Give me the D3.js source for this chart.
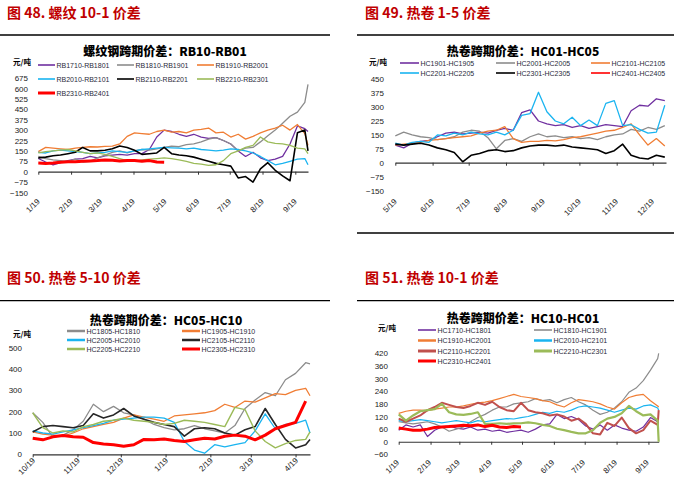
<!DOCTYPE html>
<html><head><meta charset="utf-8">
<script src="https://cdn.jsdelivr.net/npm/d3@7"></script>
<style>body{margin:0;background:#fff}svg{display:block}</style>
</head><body>
<svg id="c" width="674" height="487"></svg>
<script>
// ---------------- DATA ----------------
// Panel 1: RB10-RB01 (weekly from 2019-01-19, last point 2019-10-01)
const p1Start = "2019-01-19", p1Weeks = 37, p1End = "2019-10-01";
const p1Ticks = ["2019-01-19","2019-02-19","2019-03-19","2019-04-19","2019-05-19","2019-06-19","2019-07-19","2019-08-19","2019-09-19"];
const p1YTicks = [-150,-75,0,75,150,225,300,375,450,525,600,675];
const rb1710 = [95,70,50,65,80,90,95,110,100,115,120,125,120,130,130,160,250,300,290,270,255,270,250,240,245,225,200,150,110,140,100,80,90,110,200,330,310,290];
const rb1810 = [110,95,85,80,75,90,70,75,100,120,140,150,135,150,160,155,165,175,185,180,195,200,215,235,245,225,200,150,170,175,215,260,300,350,400,430,500,630];
const rb1910 = [145,175,170,165,160,170,175,180,178,182,185,200,255,280,275,270,290,300,285,290,280,300,305,315,280,285,250,270,235,255,280,300,315,335,300,340,275,190];
const rb2010 = [140,135,150,155,150,145,140,130,135,140,150,145,140,150,160,165,170,175,172,170,165,170,160,155,150,155,165,160,150,135,110,80,50,60,75,90,95,50];
const rb2110 = [100,105,115,120,130,140,175,150,150,155,165,185,175,155,125,130,135,175,130,120,115,105,90,75,60,50,40,-45,-35,-75,20,65,10,-30,-65,280,300,150];
const rb2210 = [135,145,150,155,160,150,140,130,135,125,110,95,80,75,85,90,95,100,95,85,75,60,55,45,50,80,130,150,175,190,250,215,205,200,190,170,165,130];
const rb2310 = [62,60,62,68,72,72,75,78,80,85,82,78,80,80,75,80,70,68];

// Panel 2: HC01-HC05 (weekly from 2019-05-19)
const p2Start = "2019-05-19", p2Weeks = 33;
const p2Ticks = ["2019-05-19","2019-06-19","2019-07-19","2019-08-19","2019-09-19","2019-10-19","2019-11-19","2019-12-19"];
const p2YTicks = [-150,-75,0,75,150,225,300,375,450];
const hc1901 = [95,80,105,115,120,140,160,165,155,160,165,160,175,185,175,270,285,225,210,200,205,190,200,185,195,205,200,195,280,310,305,345,335];
const hc2001 = [145,165,150,140,135,125,130,140,165,175,170,135,75,120,130,115,140,155,140,145,135,140,130,135,125,140,150,155,180,170,190,180,200];
const hc2101 = [95,100,105,110,120,125,130,135,140,145,160,170,175,195,130,110,115,115,120,118,125,135,140,150,160,170,175,190,210,150,95,130,90];
const hc2201 = [105,95,110,115,110,150,145,160,150,165,155,150,165,150,175,255,265,380,275,225,210,245,200,230,200,320,335,200,205,180,160,165,310];
const hc2301 = [100,95,100,105,95,80,70,55,5,40,50,65,70,60,65,80,90,95,95,90,95,85,80,75,70,50,65,100,40,25,20,40,30];
const hc2401 = [];

// Panel 3: HC05-HC10 (weekly from 2018-10-19, last point 2019-04-29)
const p3Start = "2018-10-19", p3Weeks = 28, p3End = "2019-04-29";
const p3Ticks = ["2018-10-19","2018-11-19","2018-12-19","2019-01-19","2019-02-19","2019-03-19","2019-04-19"];
const p3YTicks = [0,100,200,300,400,500];
const hc1805 = [195,150,80,90,115,155,235,200,225,195,185,165,140,125,115,120,135,120,110,100,135,215,255,290,275,350,380,430,425];
const hc1905 = [105,95,90,85,100,120,130,140,150,170,185,175,165,155,180,185,190,195,205,235,220,250,245,265,285,280,300,310,275];
const hc2005 = [110,100,95,105,115,125,135,145,160,165,170,175,175,170,150,60,20,5,45,35,45,55,110,190,120,140,145,160,100];
const hc2105 = [105,130,135,130,125,135,190,170,185,215,180,165,150,140,130,85,120,125,120,100,90,115,130,215,140,70,30,45,70];
const hc2205 = [195,125,100,110,105,130,140,155,160,170,160,155,150,140,145,160,155,150,140,130,220,210,110,60,30,50,65,70,105];
const hc2305 = [75,68,82,88,82,80,55,48,45,38,45,70,68,72,65,60,68,75,72,85,90,85,68,90,120,135,150,250];

// Panel 4: HC10-HC01 (weekly from 2019-01-19, last point 2019-09-29)
const p4Start = "2019-01-19", p4Weeks = 37, p4End = "2019-09-29";
const p4Ticks = ["2019-01-19","2019-02-19","2019-03-19","2019-04-19","2019-05-19","2019-06-19","2019-07-19","2019-08-19","2019-09-19"];
const p4YTicks = [-60,0,60,120,180,240,300,360,420];
const hc1710 = [55,80,70,80,25,55,70,75,65,60,70,55,60,50,55,45,50,55,45,60,80,85,130,110,120,105,75,60,80,55,80,65,55,50,70,115,95,90];
const hc1810 = [95,90,85,90,95,85,70,50,60,70,95,115,130,150,165,165,180,185,190,205,195,200,185,200,210,190,175,150,130,140,160,190,235,255,290,340,395,420];
const hc1910 = [135,145,150,150,148,155,160,165,165,170,178,185,188,195,205,215,225,215,210,205,195,190,175,165,185,200,195,190,180,165,155,185,210,220,225,195,170,165];
const hc2010 = [100,95,100,105,100,95,90,95,100,95,90,100,95,100,105,110,108,115,120,130,140,135,145,140,150,165,170,165,160,150,140,150,160,155,170,175,160,150];
const hc2110 = [110,95,110,125,150,165,185,175,165,160,170,185,175,190,165,150,145,185,150,140,135,125,130,120,100,110,85,40,35,90,75,115,65,40,55,100,80,150];
const hc2210 = [130,100,125,145,150,155,180,140,130,128,132,140,85,85,88,85,87,88,92,88,80,75,62,55,47,40,40,55,90,110,118,135,170,145,125,130,100,0];
const hc2310 = [65,60,55,55,60,68,70,72,75,78,76,80,72,78,70,68,72,70];

// ---------------- DRAWING ----------------
const parse = d3.timeParse("%Y-%m-%d");
const fmt = d3.timeFormat("%-m/%-d");
function weekly(start, n, end){
  const s = parse(start);
  const arr = d3.range(n).map(i => d3.timeDay.offset(s, 7*i));
  if (end) arr.push(parse(end));
  return arr;
}
const COL = {purple:"#7030A0", gray:"#8C8C8C", orange:"#F07D34", blue:"#1AB4F0", black:"#000000",
  green:"#9BBB59", red:"#FF0000", brown:"#C0504D", dark:"#262626"};
const CJK = "'Noto Sans CJK SC','Noto Sans',sans-serif";
const LAT = "'Liberation Sans',Arial,sans-serif";
const svg = d3.select("#c");

function panel(cfg){
  const g = svg.append("g");
  g.append("text").attr("x", cfg.hx).attr("y", cfg.hy).text(cfg.header)
    .attr("fill", "#C00000").attr("font-size", 14).attr("font-weight", "bold").attr("font-family", CJK);
  cfg.rules.forEach(r => g.append("line").attr("x1", r[0]).attr("x2", r[1]).attr("y1", r[2]).attr("y2", r[2])
    .attr("stroke", "#000").attr("stroke-width", 1.3));
  g.append("text").attr("x", cfg.tx).attr("y", cfg.ty).attr("text-anchor", "middle").text(cfg.title)
    .attr("font-size", 12).attr("font-weight", 900).attr("font-family", CJK).attr("fill", "#000");
  g.append("text").attr("x", cfg.ux).attr("y", cfg.uy).text("元/吨")
    .attr("font-size", 7.5).attr("font-weight", "bold").attr("font-family", CJK).attr("fill", "#000");

  const x = d3.scaleTime().domain(cfg.xDomain).range(cfg.xRange);
  const y = d3.scaleLinear().domain(cfg.yDomain).range(cfg.yRange);

  // y labels
  const ya = g.append("g").attr("transform", `translate(${cfg.ylx},0)`)
    .call(d3.axisLeft(y).tickValues(cfg.yTicks).tickSize(0).tickPadding(0));
  ya.select(".domain").remove();
  ya.selectAll("text").attr("font-size", 8).attr("font-family", LAT).attr("fill", "#222");

  // x axis at zero
  const tickDates = cfg.xTicks.map(parse);
  const xa = g.append("g").attr("transform", `translate(0,${y(0)})`)
    .call(d3.axisBottom(x).tickValues(tickDates).tickFormat("").tickSize(3).tickSizeOuter(0));
  xa.select(".domain").attr("stroke", "#333").attr("stroke-width", 1.2);
  xa.selectAll(".tick line").attr("stroke", "#333");
  g.selectAll(".xl").data(tickDates).join("text")
    .attr("transform", d => `translate(${x(d) + cfg.xlDx},${cfg.xly}) rotate(-45)`)
    .attr("text-anchor", "end").text(d => fmt(d))
    .attr("font-size", 8).attr("font-family", LAT).attr("fill", "#222");

  // series
  const line = d3.line().defined(d => d.v != null).x(d => x(d.d)).y(d => y(d.v));
  cfg.series.forEach(s => {
    const pts = s.values.map((v, i) => ({d: cfg.dates[i], v: v}));
    if (!pts.length) return;
    g.append("path").datum(pts).attr("d", line).attr("fill", "none")
      .attr("stroke", s.color).attr("stroke-width", s.w).attr("stroke-linejoin", "round");
  });

  // legend
  cfg.series.forEach((s, i) => {
    const cx = cfg.lCols[i % cfg.lCols.length], cy = cfg.lRows[Math.floor(i / cfg.lCols.length)];
    g.append("line").attr("x1", cx).attr("x2", cx + cfg.lLen).attr("y1", cy).attr("y2", cy)
      .attr("stroke", s.color).attr("stroke-width", Math.max(1.6, s.lw || s.w));
    g.append("text").attr("x", cx + cfg.lLen + 1.5).attr("y", cy + 2.5).text(s.name)
      .attr("font-size", 7).attr("font-family", LAT).attr("fill", "#2a2a3a");
  });
}

panel({
  header: "图 48. 螺纹 10-1 价差", hx: 7, hy: 18, rules: [[0, 330, 35]],
  title: "螺纹钢跨期价差：RB10-RB01", tx: 165, ty: 56, ux: 13, uy: 65,
  xDomain: [parse("2019-01-19"), parse(p1End)], xRange: [38.3, 308],
  yDomain: [-150, 675], yRange: [192.5, 78.1], yTicks: p1YTicks, ylx: 28,
  xTicks: p1Ticks, xly: 202, xlDx: 2,
  dates: weekly(p1Start, p1Weeks, p1End),
  lCols: [38, 117, 197], lRows: [65, 79, 93], lLen: 17,
  series: [
    {name: "RB1710-RB1801", values: rb1710, color: COL.purple, w: 1.3},
    {name: "RB1810-RB1901", values: rb1810, color: COL.gray, w: 1.3},
    {name: "RB1910-RB2001", values: rb1910, color: COL.orange, w: 1.3},
    {name: "RB2010-RB2101", values: rb2010, color: COL.blue, w: 1.3},
    {name: "RB2110-RB2201", values: rb2110, color: COL.black, w: 1.6},
    {name: "RB2210-RB2301", values: rb2210, color: COL.green, w: 1.3},
    {name: "RB2310-RB2401", values: rb2310, color: COL.red, w: 3}
  ]
});

panel({
  header: "图 49. 热卷 1-5 价差", hx: 365, hy: 18, rules: [[357, 674, 35], [357, 674, 233]],
  title: "热卷跨期价差：HC01-HC05", tx: 523, ty: 56, ux: 369, uy: 65,
  xDomain: [parse("2019-05-19"), parse("2019-12-30")], xRange: [395.3, 666],
  yDomain: [-150, 450], yRange: [190.5, 79.3], yTicks: p2YTicks, ylx: 384,
  xTicks: p2Ticks, xly: 202, xlDx: 2,
  dates: weekly(p2Start, p2Weeks),
  lCols: [400, 496, 591], lRows: [63, 73], lLen: 19,
  series: [
    {name: "HC1901-HC1905", values: hc1901, color: COL.purple, w: 1.3},
    {name: "HC2001-HC2005", values: hc2001, color: COL.gray, w: 1.3},
    {name: "HC2101-HC2105", values: hc2101, color: COL.orange, w: 1.3},
    {name: "HC2201-HC2205", values: hc2201, color: COL.blue, w: 1.3},
    {name: "HC2301-HC2305", values: hc2301, color: COL.black, w: 1.6},
    {name: "HC2401-HC2405", values: hc2401, color: COL.red, w: 1.3}
  ]
});

panel({
  header: "图 50. 热卷 5-10 价差", hx: 7, hy: 283, rules: [[0, 330, 300.7]],
  title: "热卷跨期价差：HC05-HC10", tx: 166, ty: 325, ux: 13, uy: 337,
  xDomain: [parse("2018-10-19"), parse(p3End)], xRange: [32.7, 310],
  yDomain: [0, 500], yRange: [454.3, 347.8], yTicks: p3YTicks, ylx: 22,
  xTicks: p3Ticks, xly: 461, xlDx: 3,
  dates: weekly(p3Start, p3Weeks, p3End),
  lCols: [67, 182], lRows: [331, 340, 349], lLen: 18,
  series: [
    {name: "HC1805-HC1810", values: hc1805, color: COL.gray, w: 1.3, lw: 2.5},
    {name: "HC1905-HC1910", values: hc1905, color: COL.orange, w: 1.3, lw: 2.5},
    {name: "HC2005-HC2010", values: hc2005, color: COL.blue, w: 1.3, lw: 2.5},
    {name: "HC2105-HC2110", values: hc2105, color: COL.dark, w: 1.6, lw: 2.5},
    {name: "HC2205-HC2210", values: hc2205, color: COL.green, w: 1.4, lw: 2.5},
    {name: "HC2305-HC2310", values: hc2305, color: COL.red, w: 3}
  ]
});

panel({
  header: "图 51. 热卷 10-1 价差", hx: 365, hy: 283, rules: [[357, 674, 300.7]],
  title: "热卷跨期价差：HC10-HC01", tx: 523, ty: 323, ux: 378, uy: 331,
  xDomain: [parse("2019-01-19"), parse(p4End)], xRange: [398.7, 658.7],
  yDomain: [-60, 420], yRange: [454.4, 353.3], yTicks: p4YTicks, ylx: 388,
  xTicks: p4Ticks, xly: 463, xlDx: 1,
  dates: weekly(p4Start, p4Weeks, p4End),
  lCols: [418, 534], lRows: [330, 340.5, 351, 361], lLen: 18,
  series: [
    {name: "HC1710-HC1801", values: hc1710, color: COL.purple, w: 1.2},
    {name: "HC1810-HC1901", values: hc1810, color: COL.gray, w: 1.2},
    {name: "HC1910-HC2001", values: hc1910, color: COL.orange, w: 1.2, lw: 2.5},
    {name: "HC2010-HC2101", values: hc2010, color: COL.blue, w: 1.2, lw: 2.5},
    {name: "HC2110-HC2201", values: hc2110, color: COL.brown, w: 2, lw: 3},
    {name: "HC2210-HC2301", values: hc2210, color: COL.green, w: 2.2, lw: 3},
    {name: "HC2310-HC2401", values: hc2310, color: COL.red, w: 3}
  ]
});
</script>
</body></html>
